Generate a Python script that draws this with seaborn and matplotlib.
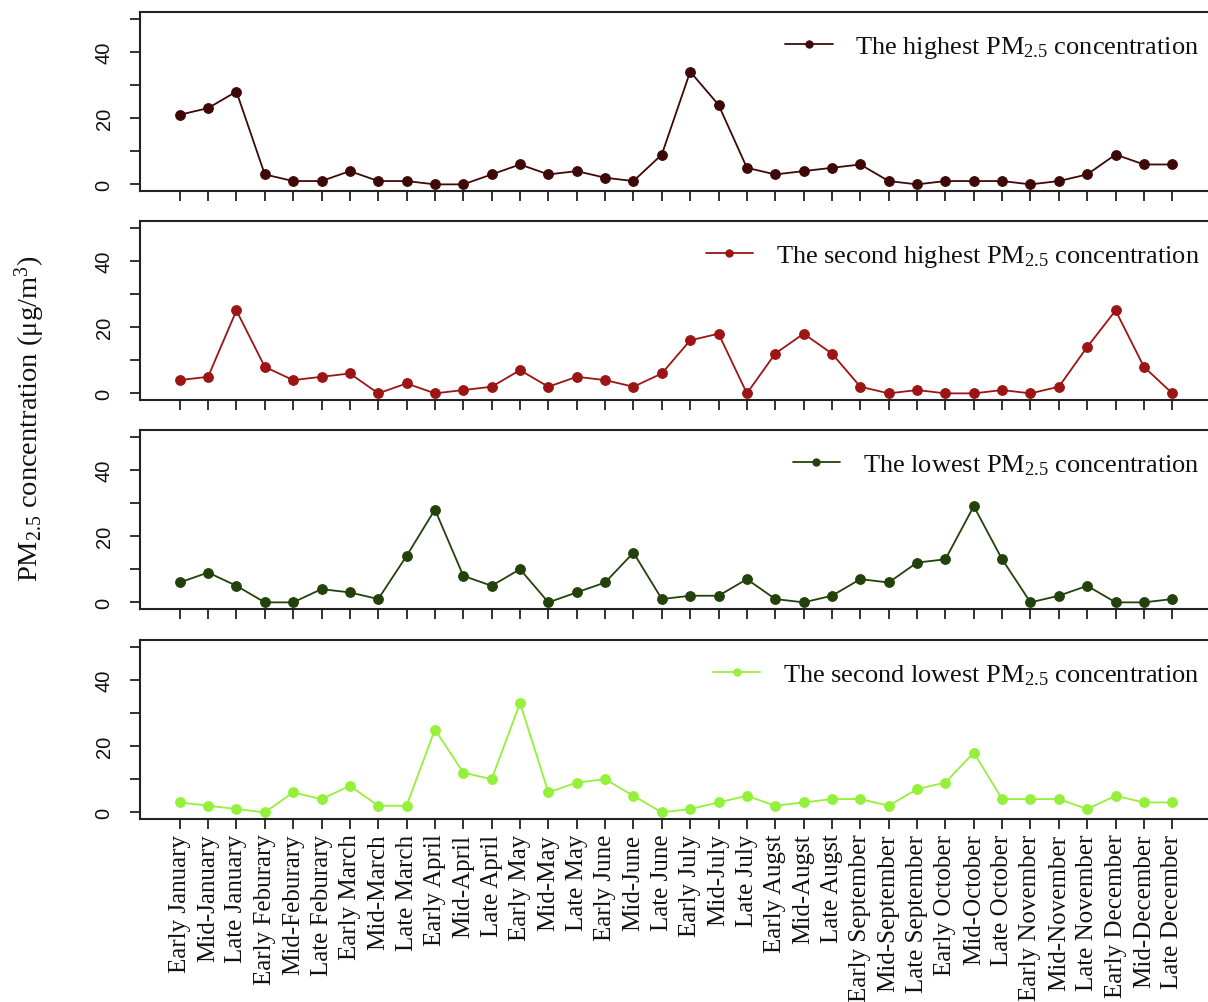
import matplotlib
matplotlib.use("Agg")
import matplotlib.pyplot as plt
import seaborn as sns
import pandas as pd

# Ten-day periods of the year
periods = [
    "Early January", "Mid-January", "Late January",
    "Early Feburary", "Mid-Feburary", "Late Feburary",
    "Early March", "Mid-March", "Late March",
    "Early April", "Mid-April", "Late April",
    "Early May", "Mid-May", "Late May",
    "Early June", "Mid-June", "Late June",
    "Early July", "Mid-July", "Late July",
    "Early Augst", "Mid-Augst", "Late Augst",
    "Early September", "Mid-September", "Late September",
    "Early October", "Mid-October", "Late October",
    "Early November", "Mid-November", "Late November",
    "Early December", "Mid-December", "Late December",
]

highest = [21, 23, 28, 3, 1, 1, 4, 1, 1, 0, 0, 3, 6, 3, 4, 2, 1, 9,
           34, 24, 5, 3, 4, 5, 6, 1, 0, 1, 1, 1, 0, 1, 3, 9, 6, 6]
second_highest = [4, 5, 25, 8, 4, 5, 6, 0, 3, 0, 1, 2, 7, 2, 5, 4, 2, 6,
                  16, 18, 0, 12, 18, 12, 2, 0, 1, 0, 0, 1, 0, 2, 14, 25, 8, 0]
lowest = [6, 9, 5, 0, 0, 4, 3, 1, 14, 28, 8, 5, 10, 0, 3, 6, 15, 1,
          2, 2, 7, 1, 0, 2, 7, 6, 12, 13, 29, 13, 0, 2, 5, 0, 0, 1]
second_lowest = [3, 2, 1, 0, 6, 4, 8, 2, 2, 25, 12, 10, 33, 6, 9, 10, 5, 0,
                 1, 3, 5, 2, 3, 4, 4, 2, 7, 9, 18, 4, 4, 4, 1, 5, 3, 3]

series_names = [
    "The highest PM$_{\\mathrm{2.5}}$ concentration",
    "The second highest PM$_{\\mathrm{2.5}}$ concentration",
    "The lowest PM$_{\\mathrm{2.5}}$ concentration",
    "The second lowest PM$_{\\mathrm{2.5}}$ concentration",
]
series_values = [highest, second_highest, lowest, second_lowest]
series_colors = ["#3f0808", "#9c1414", "#22420c", "#94f03a"]

sns.set_style("ticks")
plt.rcParams["font.family"] = ["Liberation Serif", "DejaVu Serif"]
plt.rcParams["mathtext.fontset"] = "custom"
plt.rcParams["mathtext.rm"] = "Liberation Serif"
plt.rcParams["mathtext.it"] = "Liberation Serif:italic"

W, H = 1208, 1003
fig = plt.figure(figsize=(W / 100, H / 100), dpi=100)

# panel boxes in pixel rows (top, bottom)
boxes = [(13, 192), (222, 401), (431, 610), (641, 820)]
left_px, right_px = 140, 1212

xpos = list(range(1, len(periods) + 1))

for i, ((top, bot), name, vals, col) in enumerate(
        zip(boxes, series_names, series_values, series_colors)):
    ax = fig.add_axes([left_px / W, 1 - bot / H,
                       (right_px - left_px) / W, (bot - top) / H])
    df = pd.DataFrame({"period": xpos, "value": vals})
    sns.lineplot(data=df, x="period", y="value", ax=ax, color=col,
                 marker="o", markersize=7, markeredgecolor=col,
                 linewidth=1.3, label=name)
    ax.set_xlim(1 - 1.4, len(periods) + 1.4)
    ax.set_ylim(-2, 52)
    ax.set_yticks([0, 10, 20, 30, 40, 50])
    ax.set_yticklabels(["0", "", "20", "", "40", ""], rotation=90,
                       va="center", family="Liberation Sans", fontsize=14.5)
    ax.set_xticks(xpos)
    if i == len(boxes) - 1:
        ax.set_xticklabels(periods, rotation=90, fontsize=18)
    else:
        ax.set_xticklabels([])
    ax.tick_params(axis="both", direction="out", length=7, width=1.3,
                   colors="#222222", labelcolor="#111111")
    ax.tick_params(axis="y", pad=12)
    ax.set_xlabel("")
    ax.set_ylabel("")
    for sp in ax.spines.values():
        sp.set_visible(True)
        sp.set_linewidth(1.5)
        sp.set_color("#222222")
    leg = ax.legend(loc="upper right", frameon=False, fontsize=19,
                    handlelength=1.8, handletextpad=0.85, markerscale=0.75,
                    borderaxespad=0.2, bbox_to_anchor=(1.003, 0.966))
    for t in leg.get_texts():
        t.set_color("#111111")

fig.text(30 / W, 1 - 419 / H, "PM$_{\\mathrm{2.5}}$ concentration (\u03bcg/m$^{\\mathrm{3}}$)",
         rotation=90, ha="center", va="center", fontsize=20.5, color="#111111")

fig.savefig("out.png", dpi=100)
